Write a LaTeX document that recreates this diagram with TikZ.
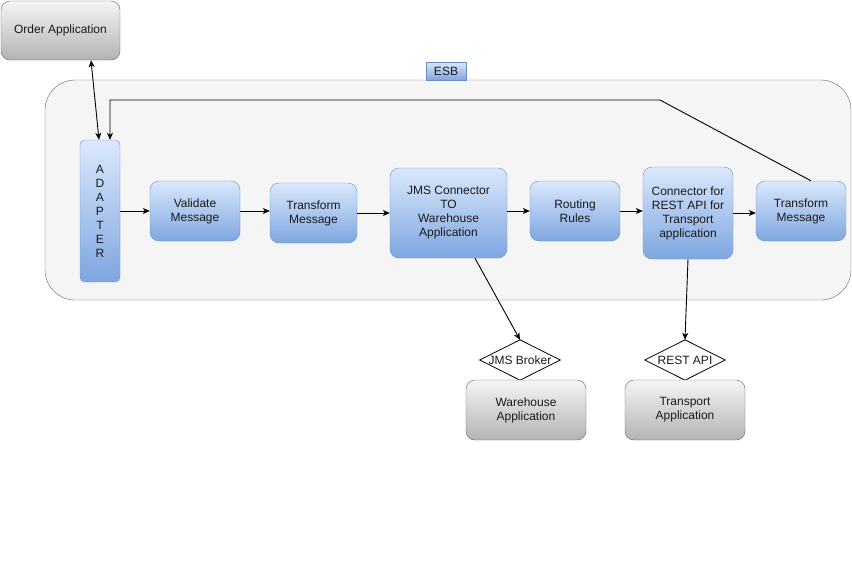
\documentclass[tikz,border=0pt]{standalone}
\usepackage{fontspec}
\setmainfont{Liberation Sans}
\usetikzlibrary{arrows.meta}
\definecolor{bluetop}{HTML}{DAE8FC}
\definecolor{bluebot}{HTML}{7EA6E0}
\definecolor{bluestroke}{HTML}{6C8EBF}
\definecolor{graytop}{HTML}{F5F5F5}
\definecolor{graybot}{HTML}{B3B3B3}
\definecolor{graystroke}{HTML}{666666}
\definecolor{txt}{HTML}{1A1A1A}
\definecolor{esbfill}{HTML}{F5F5F5}
\tikzset{
  bluebox/.style={draw=bluestroke, top color=bluetop, bottom color=bluebot, rounded corners=9pt,
    align=center, inner sep=0pt, font=\fontsize{12}{14}\selectfont, text=txt},
  graybox/.style={draw=graystroke, top color=graytop, bottom color=graybot, rounded corners=9pt,
    align=center, inner sep=0pt, font=\fontsize{12}{14}\selectfont, text=txt},
  dia/.style={inner sep=0pt, font=\fontsize{12}{14}\selectfont, text=txt},
  conn/.style={draw=black, line width=0.9pt, -{Stealth[length=7pt,width=6pt,inset=2pt]}},
  plain/.style={draw=black, line width=0.9pt},
}
\begin{document}
\begin{tikzpicture}[x=1pt,y=-1pt]
\useasboundingbox (0,0) rectangle (852,579);
% ESB container
\draw[draw=graystroke, fill=esbfill, rounded corners=30pt] (45,80) rectangle (851,300);
\node[bluebox, rounded corners=0pt, minimum width=40pt, minimum height=18pt] (esb) at (446,71) {ESB};
% nodes
\node[graybox, minimum width=119pt, minimum height=59pt] (order) at (60.5,30.5) {Order Application};
\node[bluebox, rounded corners=5pt, minimum width=40pt, minimum height=142pt] (adapter) at (100,211)
  {\fontsize{12}{14.5}\selectfont A\\D\\A\\P\\T\\E\\R};
\node[bluebox, minimum width=90pt, minimum height=60pt] (validate) at (195,211) {Validate\\Message};
\node[bluebox, minimum width=87pt, minimum height=60pt] (trans1) at (313.5,213) {Transform\\Message};
\node[bluebox, minimum width=117pt, minimum height=90pt] (jms) at (448.5,213) {JMS Connector\\TO\\Warehouse\\Application};
\node[bluebox, minimum width=90pt, minimum height=60pt] (routing) at (575,211) {Routing\\Rules};
\node[bluebox, minimum width=90pt, minimum height=92pt] (rest) at (688,213) {Connector for\\REST API for\\Transport\\application};
\node[bluebox, minimum width=90pt, minimum height=60pt] (trans2) at (801,211) {Transform\\Message};
% diamonds
\node[dia, minimum width=80pt, minimum height=40pt] (broker) at (520,360) {JMS Broker};
\draw[draw=black, line width=0.8pt] (broker.north) -- (broker.east) -- (broker.south) -- (broker.west) -- cycle;
\node[dia, minimum width=80pt, minimum height=40pt] (restapi) at (685,360) {REST API};
\draw[draw=black, line width=0.8pt] (restapi.north) -- (restapi.east) -- (restapi.south) -- (restapi.west) -- cycle;
% apps
\node[graybox, minimum width=120pt, minimum height=60pt] (warehouse) at (526,410) {Warehouse\\Application};
\node[graybox, minimum width=120pt, minimum height=60pt] (transport) at (685,410) {Transport\\Application};
% connectors
\draw[conn, {Stealth[length=7pt,width=6pt,inset=2pt]}-{Stealth[length=7pt,width=6pt,inset=2pt]}]
  ([xshift=30.5pt]order.south) -- ([xshift=-1pt]adapter.north);
\coordinate (fb0) at ([xshift=10pt]trans2.north);
\coordinate (fb1) at (660,100);
\coordinate (fb2) at (110,100);
\draw[conn] (fb0) -- (fb1) -- (fb2) -- ([xshift=10pt]adapter.north);
\draw[conn] (adapter.east) -- (validate.west);
\draw[conn] (validate.east) -- (validate.east -| trans1.west);
\draw[conn] (trans1.east) -- (jms.west);
\draw[conn] (jms.east |- routing.west) -- (routing.west);
\draw[conn] (routing.east) -- (routing.east -| rest.west);
\draw[conn] (rest.east) -- (rest.east -| trans2.west);
\draw[conn] ([xshift=26.5pt]jms.south) -- (broker.north);
\draw[conn] (rest.south) -- (restapi.north);
\end{tikzpicture}
\end{document}
